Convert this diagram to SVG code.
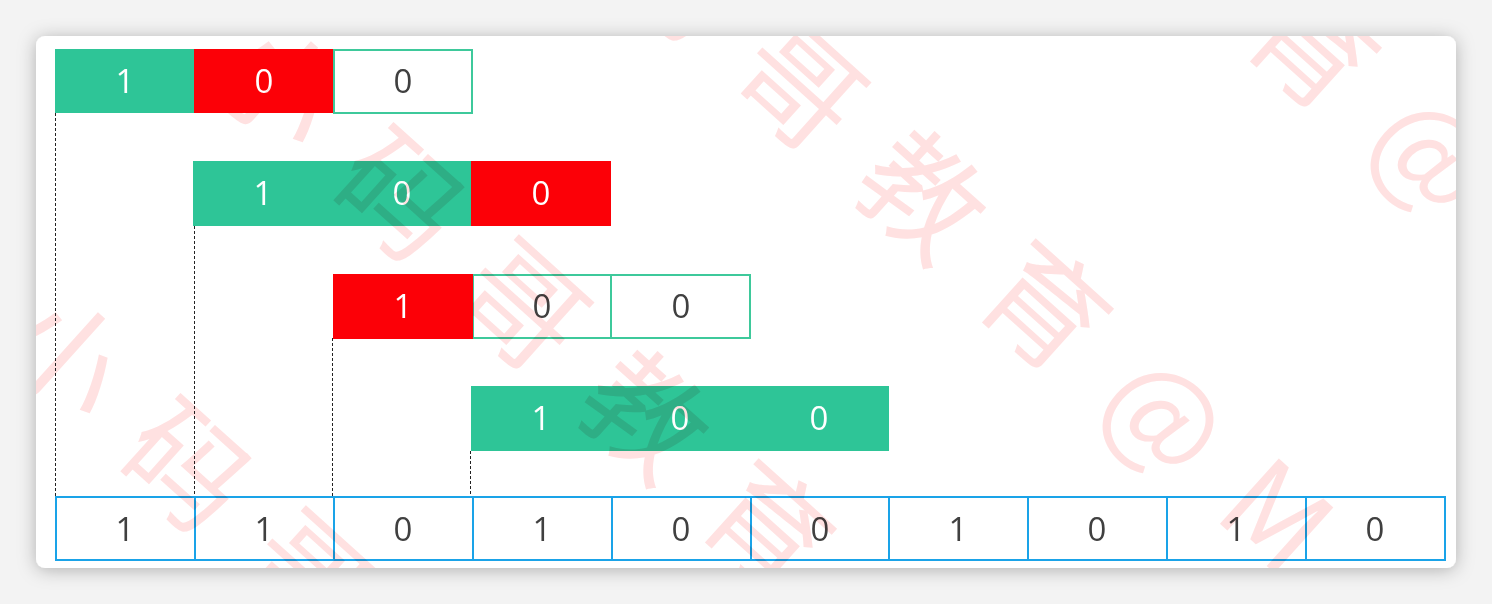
<svg xmlns="http://www.w3.org/2000/svg" width="1492" height="604" viewBox="0 0 1492 604">
  <defs>
    <filter id="shadow" x="-5%" y="-10%" width="110%" height="120%">
      <feDropShadow dx="0" dy="2" stdDeviation="9" flood-color="#000" flood-opacity="0.28"/>
    </filter>
    <clipPath id="cardClip">
      <rect x="36" y="36" width="1420" height="532" rx="9"/>
    </clipPath>
    <style>
      .num { font-family: "Open Sans", "Liberation Sans", sans-serif; font-size: 33px; text-anchor: middle; }
      .w { fill: #ffffff; }
      .d { fill: #404040; }
      .green { fill: #2ec597; }
      .red { fill: #fc0007; }
      .gbox { fill: #ffffff; stroke: #3ec99b; stroke-width: 2; }
      .bbox { fill: none; stroke: #1aa3e8; stroke-width: 2; }
      .dash { stroke: #222; stroke-width: 1; stroke-dasharray: 3 2; fill: none; }
      .wm { font-family: "Noto Sans CJK SC", "Noto Sans", sans-serif; font-size: 120px; letter-spacing: 45px; fill: #ffe1e1; dominant-baseline: central; }
      #watermark { mix-blend-mode: multiply; }
    </style>
  </defs>
  <rect x="0" y="0" width="1492" height="604" fill="#f3f3f3"/>
  <rect x="36" y="36" width="1420" height="532" rx="9" fill="#ffffff" filter="url(#shadow)"/>

  <g id="connectors">
    <line class="dash" x1="55.5" y1="113" x2="55.5" y2="497"/>
    <line class="dash" x1="194.5" y1="226" x2="194.5" y2="497"/>
    <line class="dash" x1="332.5" y1="338" x2="332.5" y2="497"/>
    <line class="dash" x1="470.5" y1="451" x2="470.5" y2="497"/>
  </g>

  <g id="row1">
    <rect class="green" x="55" y="49" width="139" height="64"/>
    <rect class="red" x="194" y="49" width="140" height="64"/>
    <rect class="gbox" x="334" y="50" width="138" height="63"/>
    <text class="num w" x="125" y="93">1</text>
    <text class="num w" x="264" y="93">0</text>
    <text class="num d" x="403" y="93">0</text>
  </g>

  <g id="row2">
    <rect class="green" x="193" y="161" width="278" height="65"/>
    <rect class="red" x="471" y="161" width="140" height="65"/>
    <text class="num w" x="263" y="205">1</text>
    <text class="num w" x="402" y="205">0</text>
    <text class="num w" x="541" y="205">0</text>
  </g>

  <g id="row3">
    <rect class="gbox" x="473" y="275" width="138" height="63"/>
    <rect class="gbox" x="611" y="275" width="139" height="63"/>
    <rect class="red" x="333" y="274" width="140" height="65"/>
    <text class="num w" x="403" y="318">1</text>
    <text class="num d" x="542" y="318">0</text>
    <text class="num d" x="681" y="318">0</text>
  </g>

  <g id="row4">
    <rect class="green" x="471" y="386" width="418" height="65"/>
    <text class="num w" x="541" y="430">1</text>
    <text class="num w" x="680" y="430">0</text>
    <text class="num w" x="819" y="430">0</text>
  </g>

  <g id="result">
    <rect class="bbox" x="56" y="497" width="1389" height="63"/>
    <line class="bbox" x1="195" y1="497" x2="195" y2="560"/>
    <line class="bbox" x1="334" y1="497" x2="334" y2="560"/>
    <line class="bbox" x1="473" y1="497" x2="473" y2="560"/>
    <line class="bbox" x1="612" y1="497" x2="612" y2="560"/>
    <line class="bbox" x1="751" y1="497" x2="751" y2="560"/>
    <line class="bbox" x1="889" y1="497" x2="889" y2="560"/>
    <line class="bbox" x1="1028" y1="497" x2="1028" y2="560"/>
    <line class="bbox" x1="1167" y1="497" x2="1167" y2="560"/>
    <line class="bbox" x1="1306" y1="497" x2="1306" y2="560"/>
    <text class="num d" x="125" y="541">1</text>
    <text class="num d" x="264" y="541">1</text>
    <text class="num d" x="403" y="541">0</text>
    <text class="num d" x="542" y="541">1</text>
    <text class="num d" x="681" y="541">0</text>
    <text class="num d" x="820" y="541">0</text>
    <text class="num d" x="958" y="541">1</text>
    <text class="num d" x="1097" y="541">0</text>
    <text class="num d" x="1236" y="541">1</text>
    <text class="num d" x="1375" y="541">0</text>
  </g>

  <g id="watermark" clip-path="url(#cardClip)">
    <text class="wm" transform="translate(783,-442) rotate(42)">小码哥教育@MJ</text>
    <text class="wm" transform="translate(515,-181) rotate(42)">小码哥教育@MJ</text>
    <text class="wm" transform="translate(238,39) rotate(42)">小码哥教育@MJ</text>
    <text class="wm" transform="translate(25,310) rotate(42)">小码哥教育@MJ</text>
  </g>
</svg>
